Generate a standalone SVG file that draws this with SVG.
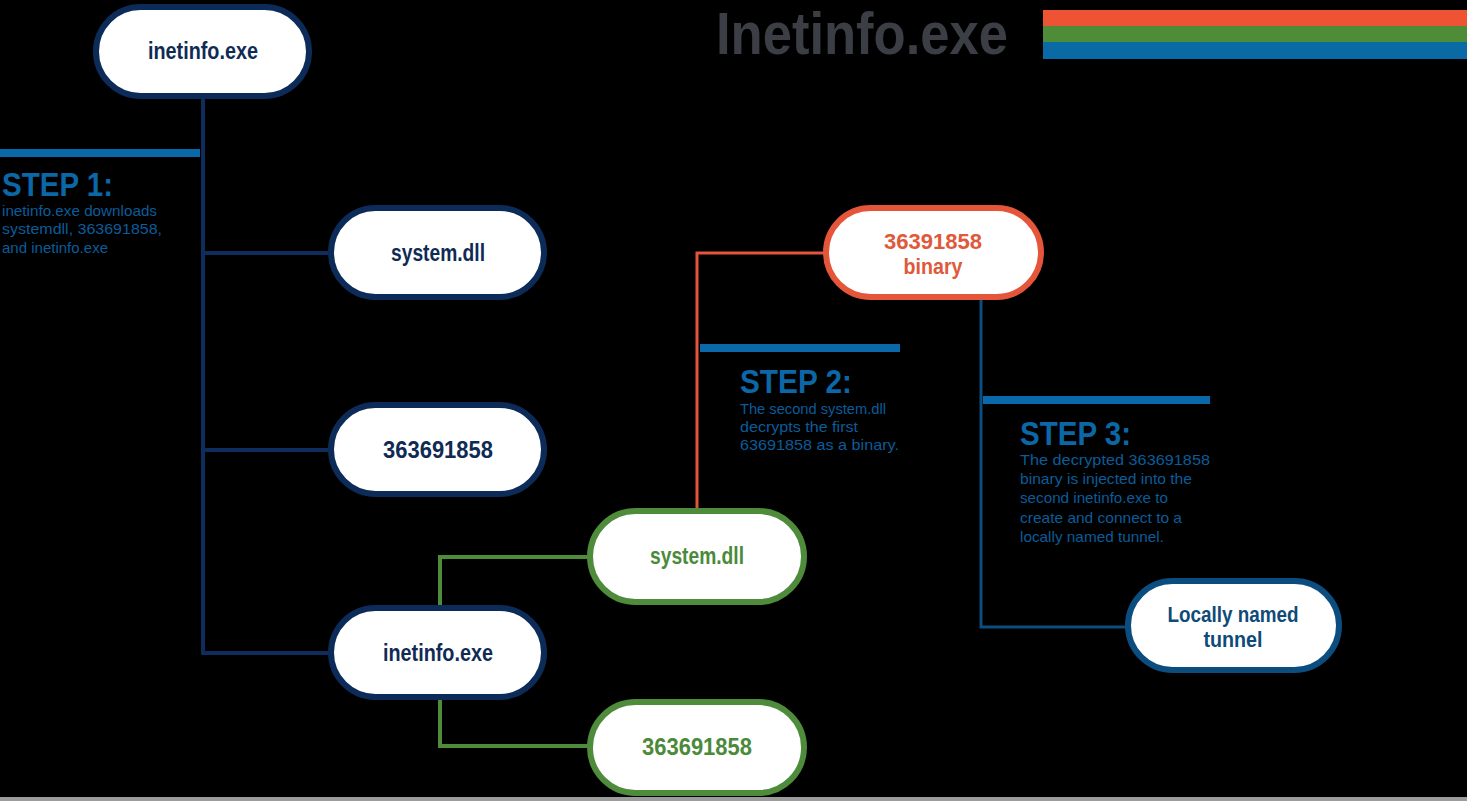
<svg xmlns="http://www.w3.org/2000/svg" width="1467" height="801" viewBox="0 0 1467 801">
<style>
.pill{fill:#ffffff;stroke-width:6}
.navy{stroke:#0d2b58}
.green{stroke:#4e8b3a}
.orange{stroke:#e4553a}
.blue{stroke:#0c4d80}
.nt{font-family:"Liberation Sans",Arial,sans-serif;font-weight:bold;font-size:23px;text-anchor:middle}
.nt2{font-family:"Liberation Sans",Arial,sans-serif;font-weight:bold;font-size:21.5px;text-anchor:middle}
.step{font-family:"Liberation Sans",Arial,sans-serif;font-weight:bold;font-size:34px;fill:#0b67a6}
.desc{font-family:"Liberation Sans",Arial,sans-serif;font-size:14.5px;fill:#0a5c9a}
.bar{fill:#0a69a8}
.conn{fill:none}
</style>
<rect x="0" y="0" width="1467" height="801" fill="#000000"/>
<rect x="0" y="797" width="1467" height="4" fill="#9c9c9c"/>

<g id="title">
<text x="716" y="54" font-family="Liberation Sans,Arial,sans-serif" font-weight="bold" font-size="60" fill="#3b3e45" textLength="292" lengthAdjust="spacingAndGlyphs">Inetinfo.exe</text>
<rect x="1043" y="10" width="424" height="16" fill="#ee5434"/>
<rect x="1043" y="26" width="424" height="16" fill="#4e8c37"/>
<rect x="1043" y="42" width="424" height="17" fill="#0a6aa6"/>
</g>

<g id="connectors">
<path class="conn" d="M203 97 V653 H330 M203 253 H330 M203 450 H330" stroke="#0f2d5c" stroke-width="4"/>
<path class="conn" d="M440 607 V557 H590 M440 698 V746 H590" stroke="#4e8b3a" stroke-width="4"/>
<path class="conn" d="M697 510 V253 H825" stroke="#e4553a" stroke-width="3"/>
<path class="conn" d="M981 298 V627 H1128" stroke="#0c4d80" stroke-width="3"/>
</g>

<g id="step1">
<rect class="bar" x="0" y="149" width="200" height="8"/>
<text class="step" x="2" y="196" textLength="111" lengthAdjust="spacingAndGlyphs">STEP 1:</text>
<text class="desc" x="2" y="216" textLength="155" lengthAdjust="spacingAndGlyphs">inetinfo.exe downloads</text>
<text class="desc" x="2" y="234" textLength="160" lengthAdjust="spacingAndGlyphs">systemdll, 363691858,</text>
<text class="desc" x="2" y="253" textLength="106" lengthAdjust="spacingAndGlyphs">and inetinfo.exe</text>
</g>

<g id="step2">
<rect class="bar" x="700" y="344" width="200" height="8"/>
<text class="step" x="740" y="393" textLength="112" lengthAdjust="spacingAndGlyphs">STEP 2:</text>
<text class="desc" x="740" y="414" textLength="146" lengthAdjust="spacingAndGlyphs">The second system.dll</text>
<text class="desc" x="740" y="432" textLength="118" lengthAdjust="spacingAndGlyphs">decrypts the first</text>
<text class="desc" x="740" y="450" textLength="159" lengthAdjust="spacingAndGlyphs">63691858 as a binary.</text>
</g>

<g id="step3">
<rect class="bar" x="983" y="396" width="227" height="8"/>
<text class="step" x="1020" y="445" textLength="111" lengthAdjust="spacingAndGlyphs">STEP 3:</text>
<text class="desc" x="1020" y="465" textLength="190" lengthAdjust="spacingAndGlyphs">The decrypted 363691858</text>
<text class="desc" x="1020" y="484" textLength="172" lengthAdjust="spacingAndGlyphs">binary is injected into the</text>
<text class="desc" x="1020" y="503" textLength="148" lengthAdjust="spacingAndGlyphs">second inetinfo.exe to</text>
<text class="desc" x="1020" y="523" textLength="162" lengthAdjust="spacingAndGlyphs">create and connect to a</text>
<text class="desc" x="1020" y="542" textLength="144" lengthAdjust="spacingAndGlyphs">locally named tunnel.</text>
</g>

<g id="node-inetinfo-top">
<rect class="pill navy" x="96" y="7" width="213" height="89" rx="44.5"/>
<text class="nt" x="203" y="59" fill="#0f2b55" textLength="110" lengthAdjust="spacingAndGlyphs">inetinfo.exe</text>
</g>

<g id="node-system-dll">
<rect class="pill navy" x="331" y="208" width="213" height="89" rx="44.5"/>
<text class="nt" x="438" y="261" fill="#0f2b55" textLength="94" lengthAdjust="spacingAndGlyphs">system.dll</text>
</g>

<g id="node-363691858">
<rect class="pill navy" x="331" y="405" width="213" height="89" rx="44.5"/>
<text class="nt" x="438" y="458" fill="#0f2b55" textLength="110" lengthAdjust="spacingAndGlyphs">363691858</text>
</g>

<g id="node-inetinfo-second">
<rect class="pill navy" x="331" y="608" width="213" height="89" rx="44.5"/>
<text class="nt" x="438" y="661" fill="#0f2b55" textLength="110" lengthAdjust="spacingAndGlyphs">inetinfo.exe</text>
</g>

<g id="node-system-dll-green">
<rect class="pill green" x="590" y="511" width="214" height="91" rx="45.5"/>
<text class="nt" x="697" y="564" fill="#4b8a3a" textLength="94" lengthAdjust="spacingAndGlyphs">system.dll</text>
</g>

<g id="node-363691858-green">
<rect class="pill green" x="590" y="702" width="214" height="91" rx="45.5"/>
<text class="nt" x="697" y="755" fill="#4b8a3a" textLength="110" lengthAdjust="spacingAndGlyphs">363691858</text>
</g>

<g id="node-binary">
<rect class="pill orange" x="826" y="208" width="215" height="89" rx="44.5"/>
<text class="nt2" x="933" y="249" fill="#e0593a" textLength="98" lengthAdjust="spacingAndGlyphs">36391858</text>
<text class="nt2" x="933" y="274" fill="#e0593a" textLength="59" lengthAdjust="spacingAndGlyphs">binary</text>
</g>

<g id="node-tunnel">
<rect class="pill blue" x="1128" y="581" width="211" height="89" rx="44.5"/>
<text class="nt2" x="1233" y="622" fill="#0f4a78" textLength="131" lengthAdjust="spacingAndGlyphs">Locally named</text>
<text class="nt2" x="1233" y="647" fill="#0f4a78" textLength="59" lengthAdjust="spacingAndGlyphs">tunnel</text>
</g>
</svg>
